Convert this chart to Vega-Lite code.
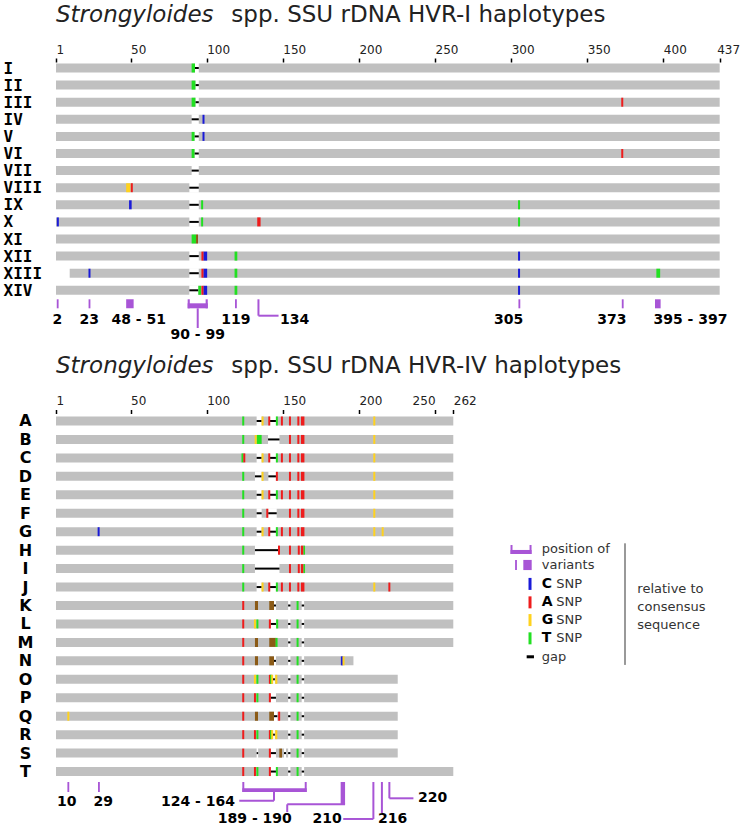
{
 "$schema": "https://vega.github.io/schema/vega-lite/v6.json",
 "padding": 0,
 "spacing": 0,
 "background": "white",
 "config": {"view": {"stroke": null}, "text": {"font": "DejaVu Sans"}, "axis": {"labelFont": "DejaVu Sans"}},
 "resolve": {"scale": {"x": "independent", "y": "independent", "color": "independent"}},
 "datasets": {
  "haps1": [{"hap":"I","idx":1},{"hap":"II","idx":2},{"hap":"III","idx":3},{"hap":"IV","idx":4},{"hap":"V","idx":5},{"hap":"VI","idx":6},{"hap":"VII","idx":7},{"hap":"VIII","idx":8},{"hap":"IX","idx":9},{"hap":"X","idx":10},{"hap":"XI","idx":11},{"hap":"XII","idx":12},{"hap":"XIII","idx":13},{"hap":"XIV","idx":14}],
  "haps2": [{"hap":"A","idx":1},{"hap":"B","idx":2},{"hap":"C","idx":3},{"hap":"D","idx":4},{"hap":"E","idx":5},{"hap":"F","idx":6},{"hap":"G","idx":7},{"hap":"H","idx":8},{"hap":"I","idx":9},{"hap":"J","idx":10},{"hap":"K","idx":11},{"hap":"L","idx":12},{"hap":"M","idx":13},{"hap":"N","idx":14},{"hap":"O","idx":15},{"hap":"P","idx":16},{"hap":"Q","idx":17},{"hap":"R","idx":18},{"hap":"S","idx":19},{"hap":"T","idx":20}],
  "p1segs": [{"hap":"I","x":1,"x2":437},{"hap":"II","x":1,"x2":437},{"hap":"III","x":1,"x2":437},{"hap":"IV","x":1,"x2":437},{"hap":"V","x":1,"x2":437},{"hap":"VI","x":1,"x2":437},{"hap":"VII","x":1,"x2":437},{"hap":"VIII","x":1,"x2":437},{"hap":"IX","x":1,"x2":437},{"hap":"X","x":1,"x2":437},{"hap":"XI","x":1,"x2":437},{"hap":"XII","x":1,"x2":437},{"hap":"XIII","x":10,"x2":437},{"hap":"XIV","x":1,"x2":437}],
  "p1gaps": [{"hap":"I","x":92.3,"x2":94.8},{"hap":"II","x":92.6,"x2":94.8},{"hap":"III","x":92.6,"x2":94.8},{"hap":"IV","x":90.1,"x2":94.8},{"hap":"V","x":92,"x2":94.8},{"hap":"VI","x":92,"x2":94.8},{"hap":"VII","x":90.1,"x2":94.8},{"hap":"VIII","x":88.6,"x2":94.8},{"hap":"IX","x":88.6,"x2":94.8},{"hap":"X","x":88.6,"x2":94.8},{"hap":"XII","x":88.6,"x2":94.8},{"hap":"XIII","x":88.6,"x2":94.8},{"hap":"XIV","x":88.6,"x2":94.5}],
  "p1ticks": [{"hap":"III","x":373,"base":"A"},{"hap":"IV","x":97.9,"base":"C"},{"hap":"V","x":97.9,"base":"C"},{"hap":"VI","x":373,"base":"A"},{"hap":"VIII","x":50.8,"base":"A"},{"hap":"IX","x":97,"base":"T"},{"hap":"IX","x":305.2,"base":"T"},{"hap":"X","x":2.2,"base":"C"},{"hap":"X","x":97,"base":"T"},{"hap":"X","x":305.2,"base":"T"},{"hap":"XII","x":97.2,"base":"A"},{"hap":"XII","x":305.2,"base":"C"},{"hap":"XIII","x":23,"base":"C"},{"hap":"XIII","x":97.2,"base":"A"},{"hap":"XIII","x":305.2,"base":"C"},{"hap":"XIV","x":97.2,"base":"A"},{"hap":"XIV","x":305.2,"base":"C"}],
  "p1blocks": [{"hap":"I","x":90.1,"x2":92.3,"base":"T"},{"hap":"II","x":90.1,"x2":92.6,"base":"T"},{"hap":"III","x":90.1,"x2":92.6,"base":"T"},{"hap":"V","x":90.1,"x2":92,"base":"T"},{"hap":"VI","x":90.1,"x2":92,"base":"T"},{"hap":"VIII","x":47.1,"x2":49.8,"base":"G"},{"hap":"IX","x":49,"x2":50.7,"base":"C"},{"hap":"X","x":133.2,"x2":135.4,"base":"A"},{"hap":"XI","x":90.1,"x2":93,"base":"T"},{"hap":"XI","x":93,"x2":94.3,"base":"AT"},{"hap":"XII","x":97.8,"x2":100.3,"base":"C"},{"hap":"XII","x":118.3,"x2":120.1,"base":"T"},{"hap":"XIII","x":97.8,"x2":100.3,"base":"C"},{"hap":"XIII","x":118.3,"x2":120.1,"base":"T"},{"hap":"XIII","x":395.4,"x2":397.9,"base":"T"},{"hap":"XIV","x":94.5,"x2":96.3,"base":"T"},{"hap":"XIV","x":97.8,"x2":100.3,"base":"C"},{"hap":"XIV","x":118.3,"x2":120.1,"base":"T"}],
  "p1rects": [{"x":1.5,"x2":2.7,"y":14.526,"y2":15.053},{"x":22.4,"x2":23.6,"y":14.526,"y2":15.053},{"x":47.1,"x2":52,"y":14.526,"y2":15.053},{"x":118.6,"x2":119.8,"y":14.526,"y2":15.053},{"x":304.8,"x2":306,"y":14.526,"y2":15.053},{"x":372.7,"x2":373.9,"y":14.526,"y2":15.053},{"x":394.5,"x2":398.2,"y":14.526,"y2":15.053},{"x":87.5,"x2":100.7,"y":14.76,"y2":15.053},{"x":87.5,"x2":88.9,"y":14.526,"y2":15.053},{"x":99.3,"x2":100.7,"y":14.526,"y2":15.053}],
  "p1rules": [{"x":94.1,"x2":94.1,"y":15.053,"y2":16.205},{"x":134,"x2":134,"y":14.526,"y2":15.485},{"x":134,"x2":147.2,"y":15.485,"y2":15.485}],
  "p1labc": [{"x":1.9,"y":15.737,"label":"2"},{"x":22.9,"y":15.737,"label":"23"},{"x":55.3,"y":15.737,"label":"48 - 51"},{"x":94.1,"y":16.61,"label":"90 - 99"},{"x":119.2,"y":15.737,"label":"119"},{"x":298.4,"y":15.737,"label":"305"},{"x":366.1,"y":15.737,"label":"373"}],
  "p1labl": [{"x":148.2,"y":15.737,"label":"134"},{"x":393.5,"y":15.737,"label":"395 - 397"}],
  "p2segs": [{"hap":"A","x":1,"x2":262},{"hap":"B","x":1,"x2":262},{"hap":"C","x":1,"x2":262},{"hap":"D","x":1,"x2":262},{"hap":"E","x":1,"x2":262},{"hap":"F","x":1,"x2":262},{"hap":"G","x":1,"x2":262},{"hap":"H","x":1,"x2":262},{"hap":"I","x":1,"x2":262},{"hap":"J","x":1,"x2":262},{"hap":"K","x":1,"x2":262},{"hap":"L","x":1,"x2":262},{"hap":"M","x":1,"x2":262},{"hap":"N","x":1,"x2":196.4},{"hap":"O","x":1,"x2":225.5},{"hap":"P","x":1,"x2":225.5},{"hap":"Q","x":1,"x2":225.5},{"hap":"R","x":1,"x2":225.5},{"hap":"S","x":1,"x2":225.5},{"hap":"T","x":1,"x2":262}],
  "p2gaps": [
   {"hap":"A","x":132.8,"x2":136.1},{"hap":"A","x":141.6,"x2":145.5},
   {"hap":"B","x":140.3,"x2":147.8},
   {"hap":"C","x":132.8,"x2":136.1},{"hap":"C","x":141.6,"x2":145.5},
   {"hap":"D","x":131.7,"x2":136.1},{"hap":"D","x":140.5,"x2":145.5},
   {"hap":"E","x":132.8,"x2":136.1},{"hap":"E","x":141.6,"x2":145.5},
   {"hap":"F","x":132.8,"x2":136.1},{"hap":"F","x":140.4,"x2":146},
   {"hap":"G","x":132.8,"x2":136.1},{"hap":"G","x":141.6,"x2":145.5},
   {"hap":"H","x":131.7,"x2":146.9},
   {"hap":"I","x":131.7,"x2":147.8},
   {"hap":"J","x":132.8,"x2":136.1},{"hap":"J","x":141.6,"x2":145.5},
   {"hap":"K","x":144.2,"x2":145.5},{"hap":"K","x":153.5,"x2":155},{"hap":"K","x":162.4,"x2":164},
   {"hap":"L","x":142,"x2":145.5},{"hap":"L","x":153.5,"x2":155},{"hap":"L","x":162.4,"x2":164},
   {"hap":"M","x":153.5,"x2":155},{"hap":"M","x":162.4,"x2":164},
   {"hap":"N","x":144.2,"x2":145.5},{"hap":"N","x":153.5,"x2":155},{"hap":"N","x":162.4,"x2":164},
   {"hap":"O","x":143.5,"x2":144.8},{"hap":"O","x":153.5,"x2":155},{"hap":"O","x":162.4,"x2":164},
   {"hap":"P","x":142,"x2":145.5},{"hap":"P","x":153.5,"x2":155},{"hap":"P","x":162.4,"x2":164},
   {"hap":"Q","x":144.2,"x2":146.4},{"hap":"Q","x":153.5,"x2":155},{"hap":"Q","x":162.4,"x2":164},
   {"hap":"R","x":143.5,"x2":144.8},{"hap":"R","x":153.5,"x2":155},{"hap":"R","x":162.4,"x2":164},
   {"hap":"S","x":132.8,"x2":133.8},{"hap":"S","x":142,"x2":145.5},{"hap":"S","x":150.8,"x2":152.1},{"hap":"S","x":153.5,"x2":155},{"hap":"S","x":162.4,"x2":164},
   {"hap":"T","x":142,"x2":145.5},{"hap":"T","x":153.5,"x2":155},{"hap":"T","x":162.4,"x2":164}],
  "p2ticks": [
   {"hap":"A","x":124,"base":"T"},{"hap":"A","x":136.7,"base":"G"},{"hap":"A","x":141.1,"base":"A"},{"hap":"A","x":146.1,"base":"T"},{"hap":"A","x":149.4,"base":"A"},{"hap":"A","x":154.7,"base":"A"},{"hap":"A","x":160.2,"base":"A"},{"hap":"A","x":210.1,"base":"G"},
   {"hap":"B","x":124,"base":"T"},{"hap":"B","x":132.2,"base":"G"},{"hap":"B","x":154.7,"base":"A"},{"hap":"B","x":160.2,"base":"A"},{"hap":"B","x":210.1,"base":"G"},
   {"hap":"C","x":123.5,"base":"T"},{"hap":"C","x":124.7,"base":"A"},{"hap":"C","x":136.7,"base":"G"},{"hap":"C","x":141.1,"base":"A"},{"hap":"C","x":146.1,"base":"T"},{"hap":"C","x":149.4,"base":"A"},{"hap":"C","x":154.7,"base":"A"},{"hap":"C","x":160.2,"base":"A"},{"hap":"C","x":210.1,"base":"G"},
   {"hap":"D","x":124,"base":"T"},{"hap":"D","x":136.7,"base":"G"},{"hap":"D","x":146.1,"base":"A"},{"hap":"D","x":154.7,"base":"A"},{"hap":"D","x":160.2,"base":"A"},{"hap":"D","x":210.1,"base":"G"},
   {"hap":"E","x":124,"base":"T"},{"hap":"E","x":136.7,"base":"G"},{"hap":"E","x":141.1,"base":"A"},{"hap":"E","x":146.1,"base":"T"},{"hap":"E","x":149.4,"base":"A"},{"hap":"E","x":154.7,"base":"A"},{"hap":"E","x":160.2,"base":"A"},{"hap":"E","x":210.1,"base":"G"},
   {"hap":"F","x":124,"base":"T"},{"hap":"F","x":139.8,"base":"A"},{"hap":"F","x":154.7,"base":"A"},{"hap":"F","x":160.2,"base":"A"},{"hap":"F","x":210.1,"base":"G"},
   {"hap":"G","x":29,"base":"C"},{"hap":"G","x":124,"base":"T"},{"hap":"G","x":136.7,"base":"G"},{"hap":"G","x":141.1,"base":"A"},{"hap":"G","x":146.1,"base":"T"},{"hap":"G","x":149.4,"base":"A"},{"hap":"G","x":154.7,"base":"A"},{"hap":"G","x":160.2,"base":"A"},{"hap":"G","x":210.1,"base":"G"},{"hap":"G","x":215.6,"base":"G"},
   {"hap":"H","x":124,"base":"T"},{"hap":"H","x":147.5,"base":"A"},{"hap":"H","x":154.7,"base":"A"},{"hap":"H","x":160.5,"base":"A"},
   {"hap":"I","x":124,"base":"T"},{"hap":"I","x":154.7,"base":"A"},{"hap":"I","x":160.5,"base":"A"},
   {"hap":"J","x":124,"base":"T"},{"hap":"J","x":136.7,"base":"G"},{"hap":"J","x":141.1,"base":"A"},{"hap":"J","x":146.1,"base":"T"},{"hap":"J","x":149.4,"base":"A"},{"hap":"J","x":154.7,"base":"A"},{"hap":"J","x":160.2,"base":"A"},{"hap":"J","x":210.1,"base":"G"},{"hap":"J","x":220,"base":"A"},
   {"hap":"K","x":124,"base":"A"},{"hap":"K","x":159.7,"base":"T"},
   {"hap":"L","x":124,"base":"A"},{"hap":"L","x":131.7,"base":"G"},{"hap":"L","x":133.3,"base":"T"},{"hap":"L","x":141.5,"base":"A"},{"hap":"L","x":146.3,"base":"T"},{"hap":"L","x":159.7,"base":"T"},
   {"hap":"M","x":124,"base":"A"},{"hap":"M","x":145.9,"base":"T"},{"hap":"M","x":159.7,"base":"T"},
   {"hap":"N","x":124,"base":"A"},{"hap":"N","x":159.7,"base":"T"},{"hap":"N","x":188.8,"base":"C"},{"hap":"N","x":189.9,"base":"G"},
   {"hap":"O","x":124,"base":"A"},{"hap":"O","x":131.7,"base":"G"},{"hap":"O","x":133.3,"base":"T"},{"hap":"O","x":141.5,"base":"A"},{"hap":"O","x":142.3,"base":"T"},{"hap":"O","x":143,"base":"G"},{"hap":"O","x":159.7,"base":"T"},
   {"hap":"P","x":124,"base":"A"},{"hap":"P","x":131.7,"base":"A"},{"hap":"P","x":133.3,"base":"T"},{"hap":"P","x":141.5,"base":"A"},{"hap":"P","x":159.7,"base":"T"},
   {"hap":"Q","x":9.1,"base":"G"},{"hap":"Q","x":124,"base":"A"},{"hap":"Q","x":147.6,"base":"A"},{"hap":"Q","x":159.7,"base":"T"},
   {"hap":"R","x":124,"base":"A"},{"hap":"R","x":131.7,"base":"A"},{"hap":"R","x":133.3,"base":"T"},{"hap":"R","x":141.5,"base":"A"},{"hap":"R","x":142.3,"base":"T"},{"hap":"R","x":143,"base":"G"},{"hap":"R","x":159.7,"base":"T"},
   {"hap":"S","x":124,"base":"A"},{"hap":"S","x":141.5,"base":"A"},{"hap":"S","x":159.7,"base":"T"},
   {"hap":"T","x":124,"base":"A"},{"hap":"T","x":131.7,"base":"A"},{"hap":"T","x":133.3,"base":"T"},{"hap":"T","x":141.5,"base":"A"},{"hap":"T","x":146.1,"base":"T"},{"hap":"T","x":159.7,"base":"T"}],
  "p2blocks": [
   {"hap":"A","x":161.9,"x2":164.2,"base":"A"},
   {"hap":"B","x":132.8,"x2":136.1,"base":"T"},{"hap":"B","x":161.9,"x2":164.2,"base":"A"},
   {"hap":"C","x":161.9,"x2":164.2,"base":"A"},{"hap":"D","x":161.9,"x2":164.2,"base":"A"},{"hap":"E","x":161.9,"x2":164.2,"base":"A"},{"hap":"F","x":161.9,"x2":164.2,"base":"A"},{"hap":"G","x":161.9,"x2":164.2,"base":"A"},
   {"hap":"H","x":161.9,"x2":163.6,"base":"A"},{"hap":"H","x":163.6,"x2":164.6,"base":"T"},
   {"hap":"I","x":161.9,"x2":163.6,"base":"A"},{"hap":"I","x":163.6,"x2":164.6,"base":"T"},
   {"hap":"J","x":161.9,"x2":164.2,"base":"A"},
   {"hap":"K","x":131.7,"x2":133.7,"base":"AT"},{"hap":"K","x":141.1,"x2":144.2,"base":"AT"},
   {"hap":"M","x":131.7,"x2":133.7,"base":"AT"},{"hap":"M","x":141.1,"x2":145.4,"base":"AT"},
   {"hap":"N","x":131.7,"x2":133.7,"base":"AT"},{"hap":"N","x":141.1,"x2":144.2,"base":"AT"},
   {"hap":"O","x":145,"x2":146.4,"base":"G"},
   {"hap":"Q","x":131.7,"x2":133.7,"base":"AT"},{"hap":"Q","x":141.1,"x2":144.2,"base":"AT"},
   {"hap":"R","x":145,"x2":146.4,"base":"G"},
   {"hap":"S","x":147.7,"x2":149.5,"base":"AT"}],
  "p2rects": [{"x":8.5,"x2":9.7,"y":20.567,"y2":21.108},{"x":28.6,"x2":29.8,"y":20.567,"y2":21.108},{"x":123.4,"x2":165.7,"y":20.908,"y2":21.108},{"x":123.4,"x2":124.7,"y":20.567,"y2":21.108},{"x":164.4,"x2":165.7,"y":20.567,"y2":21.108},{"x":188,"x2":190.9,"y":20.567,"y2":21.775},
   {"x":299.6,"x2":313.4,"y":7.99,"y2":8.21},{"x":299.6,"x2":300.9,"y":7.72,"y2":8.21},{"x":312.1,"x2":313.4,"y":7.72,"y2":8.21},{"x":302.6,"x2":303.8,"y":8.53,"y2":9.08},{"x":308,"x2":313.5,"y":8.53,"y2":9.08}],
  "p2rules": [{"x":144.2,"x2":144.2,"y":21.108,"y2":21.58},{"x":121.4,"x2":144.2,"y":21.58,"y2":21.58},{"x":152.9,"x2":190.9,"y":21.775,"y2":21.775},{"x":152.9,"x2":152.9,"y":21.775,"y2":22.2},{"x":209.5,"x2":209.5,"y":20.567,"y2":22.57},{"x":189.7,"x2":209.5,"y":22.57,"y2":22.57},{"x":215.1,"x2":215.1,"y":20.567,"y2":22.25},{"x":220,"x2":220,"y":20.567,"y2":21.45},{"x":220,"x2":235.8,"y":21.45,"y2":21.45}],
  "p2labc": [{"x":8,"y":21.635,"label":"10"},{"x":32,"y":21.635,"label":"29"},{"x":131.6,"y":22.57,"label":"189 - 190"}],
  "p2labr": [{"x":118.6,"y":21.635,"label":"124 - 164"},{"x":188.7,"y":22.57,"label":"210"}],
  "p2labl": [{"x":212.5,"y":22.57,"label":"216"},{"x":238.8,"y":21.42,"label":"220"}],
  "legticks": [{"x":312.4,"y":9.83,"base":"C"},{"x":312.4,"y":10.83,"base":"A"},{"x":312.4,"y":11.79,"base":"G"},{"x":312.4,"y":12.78,"base":"T"}],
  "legbold": [{"x":320.1,"y":9.83,"label":"C"},{"x":320.1,"y":10.83,"label":"A"},{"x":320.1,"y":11.79,"label":"G"},{"x":320.1,"y":12.78,"label":"T"}],
  "legsnp": [{"x":329.6,"y":9.83,"label":"SNP"},{"x":329.6,"y":10.83,"label":"SNP"},{"x":329.6,"y":11.79,"label":"SNP"},{"x":329.6,"y":12.78,"label":"SNP"}],
  "legtext": [{"x":320.1,"y":7.95,"label":"position of"},{"x":320.1,"y":8.8,"label":"variants"},{"x":320.1,"y":13.78,"label":"gap"},{"x":382.9,"y":10.12,"label":"relative to"},{"x":382.9,"y":11.1,"label":"consensus"},{"x":382.9,"y":12.06,"label":"sequence"}],
  "leggap": [{"x":310.2,"x2":315,"y":13.78,"y2":13.78}],
  "legline": [{"x":374.8,"x2":374.8,"y":7.63,"y2":14.22}],
  "titles1": [{"x":1,"y":-1.69,"label":"Strongyloides"}],
  "titlet1": [{"x":116.2,"y":-1.69,"label":"spp. SSU rDNA HVR-I haplotypes"}],
  "titles2": [{"x":1,"y":-1.602,"label":"Strongyloides"}],
  "titlet2": [{"x":116.2,"y":-1.602,"label":"spp. SSU rDNA HVR-IV haplotypes"}]
 },
 "vconcat": [
  {
   "width": 740, "height": 344,
   "encoding": {
    "x": {"field": "x", "type": "quantitative", "title": null, "scale": {"domain": [-35.79, 450.35], "nice": false, "zero": false, "padding": 0},
          "axis": {"orient": "top", "offset": -62, "values": [1,50,100,150,200,250,300,350,400,437], "title": null, "domain": false, "grid": false, "tickSize": 4, "tickWidth": 1.5, "tickColor": "#000", "labelFontSize": 12, "labelColor": "#222", "labelPadding": 2, "labelAlign": "left", "labelOffset": {"condition": {"test": "datum.value === 437", "value": -3}, "value": 0}, "labelFlush": false, "labelOverlap": false}},
    "y": {"field": "y", "type": "quantitative", "title": null, "scale": {"domain": [-2.977, 17.14], "reverse": true, "nice": false, "zero": false, "padding": 0},
          "axis": {"orient": "left", "offset": -50, "values": [1,2,3,4,5,6,7,8,9,10,11,12,13,14], "labelExpr": "['','I','II','III','IV','V','VI','VII','VIII','IX','X','XI','XII','XIII','XIV'][datum.value]", "title": null, "domain": false, "grid": false, "ticks": false, "tickSize": 0, "labelAlign": "left", "labelBaseline": "middle", "labelPadding": 47, "labelFont": "DejaVu Sans Mono", "labelFontWeight": "bold", "labelFontSize": 16, "labelColor": "#000", "labelFlush": false, "labelOverlap": false}}
   },
   "layer": [
    {"data": {"name": "p1segs"}, "transform": [{"lookup": "hap", "from": {"data": {"name": "haps1"}, "key": "hap", "fields": ["idx"]}, "as": ["y"]}],
     "mark": {"type": "bar", "orient": "horizontal", "size": 9, "color": "#c0c0c0"}, "encoding": {"x2": {"field": "x2"}}},
    {"data": {"name": "p1gaps"}, "transform": [{"lookup": "hap", "from": {"data": {"name": "haps1"}, "key": "hap", "fields": ["idx"]}, "as": ["y"]}],
     "mark": {"type": "bar", "orient": "horizontal", "size": 10, "color": "white"}, "encoding": {"x2": {"field": "x2"}}},
    {"data": {"name": "p1gaps"}, "transform": [{"lookup": "hap", "from": {"data": {"name": "haps1"}, "key": "hap", "fields": ["idx"]}, "as": ["y"]}],
     "mark": {"type": "rule", "color": "#000", "strokeWidth": 2}, "encoding": {"x2": {"field": "x2"}}},
    {"data": {"name": "p1blocks"}, "transform": [{"lookup": "hap", "from": {"data": {"name": "haps1"}, "key": "hap", "fields": ["idx"]}, "as": ["y"]}],
     "mark": {"type": "bar", "orient": "horizontal", "size": 9, "opacity": 1},
     "encoding": {"x2": {"field": "x2"}, "color": {"field": "base", "type": "nominal", "scale": {"domain": ["A","C","G","T","AT"], "range": ["#ee1c1c","#1a1ad8","#ffd21e","#22e022","#8b5a16"]}, "legend": null}}},
    {"data": {"name": "p1ticks"}, "transform": [{"lookup": "hap", "from": {"data": {"name": "haps1"}, "key": "hap", "fields": ["idx"]}, "as": ["y"]}],
     "mark": {"type": "tick", "orient": "vertical", "size": 9, "thickness": 2, "opacity": 1},
     "encoding": {"color": {"field": "base", "type": "nominal", "scale": {"domain": ["A","C","G","T","AT"], "range": ["#ee1c1c","#1a1ad8","#ffd21e","#22e022","#8b5a16"]}, "legend": null}}},
    {"data": {"name": "p1rects"}, "mark": {"type": "rect", "color": "#a855d6"}, "encoding": {"x2": {"field": "x2"}, "y2": {"field": "y2"}}},
    {"data": {"name": "p1rules"}, "mark": {"type": "rule", "color": "#a855d6", "strokeWidth": 2}, "encoding": {"x2": {"field": "x2"}, "y2": {"field": "y2"}}},
    {"data": {"name": "p1labc"}, "mark": {"type": "text", "align": "center", "baseline": "middle", "fontWeight": "bold", "fontSize": 14, "color": "#000"}, "encoding": {"text": {"field": "label"}}},
    {"data": {"name": "p1labl"}, "mark": {"type": "text", "align": "left", "baseline": "middle", "fontWeight": "bold", "fontSize": 14, "color": "#000"}, "encoding": {"text": {"field": "label"}}},
    {"data": {"name": "titles1"}, "mark": {"type": "text", "fontStyle": "italic", "fontSize": 23, "align": "left", "baseline": "alphabetic", "color": "#222"}, "encoding": {"text": {"field": "label"}}},
    {"data": {"name": "titlet1"}, "mark": {"type": "text", "fontSize": 23, "align": "left", "baseline": "alphabetic", "color": "#222"}, "encoding": {"text": {"field": "label"}}}
   ]
  },
  {
   "width": 740, "height": 482,
   "encoding": {
    "x": {"field": "x", "type": "quantitative", "title": null, "scale": {"domain": [-35.79, 450.35], "nice": false, "zero": false, "padding": 0},
          "axis": {"orient": "top", "offset": -69.5, "values": [1,50,100,150,200,250,262], "title": null, "domain": false, "grid": false, "tickSize": 4, "tickWidth": 1.5, "tickColor": "#000", "labelFontSize": 12, "labelColor": "#222", "labelPadding": 2, "labelAlign": {"condition": {"test": "datum.value === 250", "value": "right"}, "value": "left"}, "labelFlush": false, "labelOverlap": false}},
    "y": {"field": "y", "type": "quantitative", "title": null, "scale": {"domain": [-3.173, 22.951], "reverse": true, "nice": false, "zero": false, "padding": 0},
          "axis": {"orient": "left", "offset": -50, "values": [1,2,3,4,5,6,7,8,9,10,11,12,13,14,15,16,17,18,19,20], "labelExpr": "['','A','B','C','D','E','F','G','H','I','J','K','L','M','N','O','P','Q','R','S','T'][datum.value]", "title": null, "domain": false, "grid": false, "ticks": false, "tickSize": 0, "labelAlign": "center", "labelBaseline": "middle", "labelPadding": 25, "labelFont": "DejaVu Sans", "labelFontWeight": "bold", "labelFontSize": 16, "labelColor": "#000", "labelFlush": false, "labelOverlap": false}}
   },
   "layer": [
    {"data": {"name": "p2segs"}, "transform": [{"lookup": "hap", "from": {"data": {"name": "haps2"}, "key": "hap", "fields": ["idx"]}, "as": ["y"]}],
     "mark": {"type": "bar", "orient": "horizontal", "size": 9, "color": "#c0c0c0"}, "encoding": {"x2": {"field": "x2"}}},
    {"data": {"name": "p2gaps"}, "transform": [{"lookup": "hap", "from": {"data": {"name": "haps2"}, "key": "hap", "fields": ["idx"]}, "as": ["y"]}],
     "mark": {"type": "bar", "orient": "horizontal", "size": 10, "color": "white"}, "encoding": {"x2": {"field": "x2"}}},
    {"data": {"name": "p2gaps"}, "transform": [{"lookup": "hap", "from": {"data": {"name": "haps2"}, "key": "hap", "fields": ["idx"]}, "as": ["y"]}],
     "mark": {"type": "rule", "color": "#000", "strokeWidth": 2}, "encoding": {"x2": {"field": "x2"}}},
    {"data": {"name": "p2blocks"}, "transform": [{"lookup": "hap", "from": {"data": {"name": "haps2"}, "key": "hap", "fields": ["idx"]}, "as": ["y"]}],
     "mark": {"type": "bar", "orient": "horizontal", "size": 9, "opacity": 1},
     "encoding": {"x2": {"field": "x2"}, "color": {"field": "base", "type": "nominal", "scale": {"domain": ["A","C","G","T","AT"], "range": ["#ee1c1c","#1a1ad8","#ffd21e","#22e022","#8b5a16"]}, "legend": null}}},
    {"data": {"name": "p2ticks"}, "transform": [{"lookup": "hap", "from": {"data": {"name": "haps2"}, "key": "hap", "fields": ["idx"]}, "as": ["y"]}],
     "mark": {"type": "tick", "orient": "vertical", "size": 9, "thickness": 2, "opacity": 1},
     "encoding": {"color": {"field": "base", "type": "nominal", "scale": {"domain": ["A","C","G","T","AT"], "range": ["#ee1c1c","#1a1ad8","#ffd21e","#22e022","#8b5a16"]}, "legend": null}}},
    {"data": {"name": "p2rects"}, "mark": {"type": "rect", "color": "#a855d6"}, "encoding": {"x2": {"field": "x2"}, "y2": {"field": "y2"}}},
    {"data": {"name": "p2rules"}, "mark": {"type": "rule", "color": "#a855d6", "strokeWidth": 2}, "encoding": {"x2": {"field": "x2"}, "y2": {"field": "y2"}}},
    {"data": {"name": "p2labc"}, "mark": {"type": "text", "align": "center", "baseline": "middle", "fontWeight": "bold", "fontSize": 14, "color": "#000"}, "encoding": {"text": {"field": "label"}}},
    {"data": {"name": "p2labr"}, "mark": {"type": "text", "align": "right", "baseline": "middle", "fontWeight": "bold", "fontSize": 14, "color": "#000"}, "encoding": {"text": {"field": "label"}}},
    {"data": {"name": "p2labl"}, "mark": {"type": "text", "align": "left", "baseline": "middle", "fontWeight": "bold", "fontSize": 14, "color": "#000"}, "encoding": {"text": {"field": "label"}}},
    {"data": {"name": "legticks"}, "mark": {"type": "tick", "orient": "vertical", "size": 12, "thickness": 3, "opacity": 1},
     "encoding": {"color": {"field": "base", "type": "nominal", "scale": {"domain": ["A","C","G","T","AT"], "range": ["#ee1c1c","#1a1ad8","#ffd21e","#22e022","#8b5a16"]}, "legend": null}}},
    {"data": {"name": "leggap"}, "mark": {"type": "rule", "color": "#000", "strokeWidth": 3}, "encoding": {"x2": {"field": "x2"}, "y2": {"field": "y2"}}},
    {"data": {"name": "legline"}, "mark": {"type": "rule", "color": "#999", "strokeWidth": 2}, "encoding": {"x2": {"field": "x2"}, "y2": {"field": "y2"}}},
    {"data": {"name": "legbold"}, "mark": {"type": "text", "align": "left", "baseline": "middle", "fontWeight": "bold", "fontSize": 14, "color": "#000"}, "encoding": {"text": {"field": "label"}}},
    {"data": {"name": "legsnp"}, "mark": {"type": "text", "align": "left", "baseline": "middle", "fontSize": 13, "color": "#333"}, "encoding": {"text": {"field": "label"}}},
    {"data": {"name": "legtext"}, "mark": {"type": "text", "align": "left", "baseline": "middle", "fontSize": 13, "color": "#333"}, "encoding": {"text": {"field": "label"}}},
    {"data": {"name": "titles2"}, "mark": {"type": "text", "fontStyle": "italic", "fontSize": 23, "align": "left", "baseline": "alphabetic", "color": "#222"}, "encoding": {"text": {"field": "label"}}},
    {"data": {"name": "titlet2"}, "mark": {"type": "text", "fontSize": 23, "align": "left", "baseline": "alphabetic", "color": "#222"}, "encoding": {"text": {"field": "label"}}}
   ]
  }
 ]
}
